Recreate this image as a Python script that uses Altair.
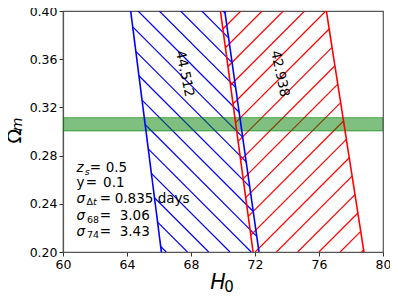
import altair as alt
import pandas as pd

# ---- data ----
# band boundaries: H0 at Omega_m = 0.40 (top) and 0.20 (bottom)
blue_left = (64.23, 66.15)
blue_right = (70.11, 72.25)
red_left = (69.84, 71.88)
red_right = (76.46, 78.81)
om_top, om_bot = 0.40, 0.20
green_band = (0.3005, 0.3115)

label_blue = "44.512"
label_red = "42.938"
label_blue_pos = (67.6, 0.348)
label_red_pos = (73.55, 0.348)

x_ticks = list(range(60, 81, 2))
y_ticks = [0.20, 0.22, 0.24, 0.26, 0.28, 0.30, 0.32, 0.34, 0.36, 0.38, 0.40]

# hatch geometry (decorative): spacing along H, H shift per unit Omega for 45 deg
hatch_gap = 1.328
hatch_k = 75.2
blue_phase_top = 64.69    # a "\" hatch at Omega=0.40
red_phase_bot = 73.34     # a "/" hatch at Omega=0.20

BLUE = "#0000ff"
RED = "#ff0000"
FONT = "DejaVu Sans"


def interval(a, b, lo, hi):
    # {t : a + b t >= 0} intersected with [lo, hi]
    if b > 0:
        lo = max(lo, -a / b)
    elif b < 0:
        hi = min(hi, -a / b)
    elif a < 0:
        return None
    return (lo, hi) if hi > lo else None


def hatch(left, right, c0, sign, tag):
    rows = []
    span = om_top - om_bot
    lt, lb = left
    rt, rb = right
    for n in range(-40, 41):
        c = c0 + n * hatch_gap
        # hatch H(t) = c + sign*k*t, with t = 0.40 - Omega
        iv = interval(c - lt, sign * hatch_k - (lb - lt) / span, 0.0, span)
        if iv is None:
            continue
        iv = interval(rt - c, (rb - rt) / span - sign * hatch_k, iv[0], iv[1])
        if iv is None:
            continue
        for k, t in enumerate(iv):
            rows.append(dict(id=f"{tag}{n}", k=k, H=c + sign * hatch_k * t, Om=om_top - t))
    return pd.DataFrame(rows)


blue_hatch = hatch(blue_left, blue_right, blue_phase_top, 1, "b")
red_hatch = hatch(red_left, red_right, red_phase_bot + hatch_k * (om_top - om_bot), -1, "r")


def edge_df(pair):
    return pd.DataFrame([dict(H=pair[0], Om=om_top, k=0), dict(H=pair[1], Om=om_bot, k=1)])


xs = alt.Scale(domain=[60, 80], nice=False, zero=False)
ys = alt.Scale(domain=[0.20, 0.40], nice=False, zero=False)

xax = alt.Axis(values=x_ticks, title=None, grid=False, tickSize=4, labelOverlap=False,
               labelFontSize=12.5, labelPadding=2, labelFlush=False)
yax = alt.Axis(values=y_ticks, format=".2f", title=None, grid=False, tickSize=4, labelOverlap=False,
               labelFontSize=12.5, labelPadding=2, labelFlush=False)


def hatch_layer(df, col, with_axes=False):
    if with_axes:
        enc = dict(x=alt.X("H:Q", scale=xs, axis=xax), y=alt.Y("Om:Q", scale=ys, axis=yax))
    else:
        enc = dict(x=alt.X("H:Q", scale=xs), y=alt.Y("Om:Q", scale=ys))
    return alt.Chart(df).mark_line(strokeWidth=1.2, color=col, clip=True).encode(
        detail="id:N", order="k:Q", **enc)


def edge_layer(pair, col):
    return alt.Chart(edge_df(pair)).mark_line(strokeWidth=1.6, color=col, clip=True).encode(
        x=alt.X("H:Q", scale=xs), y=alt.Y("Om:Q", scale=ys), order="k:Q")


band_df = pd.DataFrame([dict(x1=60, x2=80, y1=green_band[0], y2=green_band[1])])
band_layer = alt.Chart(band_df).mark_rect(fill="#008000", fillOpacity=0.5, stroke="#008000",
                                           strokeOpacity=0.6, strokeWidth=1, clip=True).encode(
    x=alt.X("x1:Q", scale=xs), x2="x2:Q", y=alt.Y("y1:Q", scale=ys), y2="y2:Q")

lab_df = pd.DataFrame([
    dict(H=label_blue_pos[0], Om=label_blue_pos[1], t=label_blue),
    dict(H=label_red_pos[0], Om=label_red_pos[1], t=label_red),
])
lab_layer = alt.Chart(lab_df).mark_text(angle=78, fontSize=13.5, font=FONT, color="black",
                                        align="center", baseline="middle").encode(
    x=alt.X("H:Q", scale=xs), y=alt.Y("Om:Q", scale=ys), text="t:N")

# text block: (line, segment, dx px, dy px, size, style)
txt_x = 60.84
line_om = [0.2695, 0.2571, 0.2440, 0.2297, 0.2170]
segs = [
    (0, "z", 0, 0, 13.5, "italic"), (0, "s", 8.3, 3.5, 9.5, "italic"),
    (0, "=", 13.3, 0, 13.5, "normal"), (0, "0.5", 29.3, 0, 13.5, "normal"),
    (1, "y", 0, 0, 13.5, "normal"), (1, "=", 9.3, 0, 13.5, "normal"), (1, "0.1", 26.6, 0, 13.5, "normal"),
    (2, "σ", 0, 0, 13.5, "italic"), (2, "Δ", 10, 3.5, 9.5, "normal"), (2, "t", 16.5, 3.5, 9.5, "italic"),
    (2, "=", 23.3, 0, 13.5, "normal"), (2, "0.835 days", 38.3, 0, 13.5, "normal"),
    (3, "σ", 0, 0, 13.5, "italic"), (3, "68", 10.6, 3.5, 9.5, "normal"),
    (3, "=", 23.3, 0, 13.5, "normal"), (3, "3.06", 43.3, 0, 13.5, "normal"),
    (4, "σ", 0, 0, 13.5, "italic"), (4, "74", 10.6, 3.5, 9.5, "normal"),
    (4, "=", 23.3, 0, 13.5, "normal"), (4, "3.43", 43.3, 0, 13.5, "normal"),
]

text_layers = []
for (li, s, dx, dy, fs, st) in segs:
    d = pd.DataFrame([dict(H=txt_x, Om=line_om[li], t=s)])
    text_layers.append(alt.Chart(d).mark_text(align="left", baseline="middle", dx=dx, dy=dy,
                                              fontSize=fs, fontStyle=st, font=FONT, color="black").encode(
        x=alt.X("H:Q", scale=xs), y=alt.Y("Om:Q", scale=ys), text="t:N"))

# axis titles with math-style subscripts, as text marks
title_segs = [
    # (H, Om, text, dx, dy, size, style, angle)
    (69.69, 0.1744, "H", 0, 0, 20.5, "italic", 0),
    (69.69, 0.1744, "0", 11, 4, 15, "normal", 0),
    (57.0, 0.2960, "Ω", 0, 0, 19, "normal", 270),
    (57.0, 0.2960, "m", 12, 3, 14, "italic", 270),
]
for (h, o, s, dx, dy, fs, st, ang) in title_segs:
    d = pd.DataFrame([dict(H=h, Om=o, t=s)])
    text_layers.append(alt.Chart(d).mark_text(align="center", baseline="middle", dx=dx, dy=dy, angle=ang,
                                              fontSize=fs, fontStyle=st, font=FONT, color="black").encode(
        x=alt.X("H:Q", scale=xs), y=alt.Y("Om:Q", scale=ys), text="t:N"))

chart = alt.layer(
    hatch_layer(blue_hatch, BLUE, with_axes=True), hatch_layer(red_hatch, RED),
    band_layer,
    edge_layer(blue_left, BLUE), edge_layer(blue_right, BLUE),
    edge_layer(red_left, RED), edge_layer(red_right, RED),
    lab_layer, *text_layers,
).properties(
    width=320, height=241,
    autosize=alt.AutoSizeParams(type="none"),
    padding={"left": 55, "top": 3, "right": 7, "bottom": 41},
).configure_view(stroke="#555555", strokeWidth=1.2).configure_axis(
    domainColor="#555555", domainWidth=1.2, tickColor="#333333", labelColor="black",
    labelFont=FONT,
)

chart.save("out.html", embed_options={"renderer": "svg", "actions": False})
